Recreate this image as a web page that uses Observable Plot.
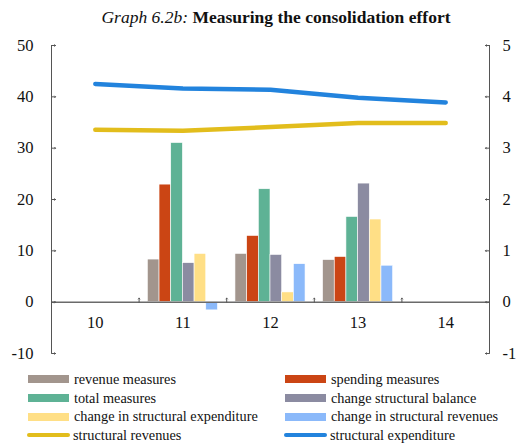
<!DOCTYPE html>
<html><head><meta charset="utf-8">
<script src="https://cdn.jsdelivr.net/npm/d3@7"></script>
<script src="https://cdn.jsdelivr.net/npm/@observablehq/plot@0.6"></script>
<style>
body{margin:0;background:#fff;font-family:"Liberation Serif",serif;color:#111;}
#wrap{position:relative;width:519px;height:444px;overflow:hidden;}
#title{position:absolute;top:0;left:33px;width:486px;height:34px;line-height:34px;text-align:center;font-size:17.5px;white-space:nowrap;}
#title i{font-style:italic;font-weight:normal;}
#title b{font-weight:bold;}
#chart{position:absolute;top:30px;left:0;}
#legend{position:absolute;top:370px;left:28px;display:grid;grid-template-columns:257px 230px;grid-auto-rows:18.7px;font-size:14.3px;}
.item{display:flex;align-items:center;white-space:nowrap;}
.sw{width:41px;height:8px;margin-right:5px;flex:none;}
.ln{width:43px;height:4px;border-radius:2px;margin-left:-1px;margin-right:3px;flex:none;}
</style>
</head><body>
<div id="wrap">
  <div id="title"><i>Graph 6.2b:</i> <b>Measuring the consolidation effort</b></div>
  <div id="chart"></div>
  <div id="legend"></div>
</div>
<script>
// ---- data ----
const years = [10, 11, 12, 13, 14];
const barYears = [11, 12, 13];
const revenueMeasures = [0.83, 0.94, 0.82];
const spendingMeasures = [2.29, 1.29, 0.88];
const totalMeasures = [3.10, 2.20, 1.66];
const changeStructuralBalance = [0.76, 0.92, 2.31];
const changeStructuralExpenditure = [0.94, 0.19, 1.61];
const changeStructuralRevenues = [-0.16, 0.74, 0.71];
const structuralRevenues = [33.6, 33.4, 34.1, 34.9, 34.9];
const structuralExpenditure = [42.5, 41.6, 41.4, 39.8, 38.9];
const leftTicks = [-10, 0, 10, 20, 30, 40, 50];
const rightTicks = [-1, 0, 1, 2, 3, 4, 5];
const barNames = ["revenue measures", "spending measures", "total measures", "change structural balance", "change in structural expenditure", "change in structural revenues"];
const barColors = ["#a2958d", "#cb4514", "#5eb295", "#8b8ba1", "#ffdf86", "#8bb9fa"];
const lineNames = ["structural revenues", "structural expenditure"];
const lineColors = ["#e2bd1c", "#2283dd"];

// ---- build ----
const ratio = leftTicks[leftTicks.length - 1] / rightTicks[rightTicks.length - 1];
const barSeries = [revenueMeasures, spendingMeasures, totalMeasures, changeStructuralBalance, changeStructuralExpenditure, changeStructuralRevenues];
const groupWidth = 0.8;
const slot = groupWidth / barSeries.length;
const barData = barSeries.flatMap((vals, i) => barYears.map((yr, j) => ({year: yr, i, name: barNames[i], value: vals[j]})));
const lineData = [structuralRevenues, structuralExpenditure].flatMap((vals, k) => years.map((yr, j) => ({year: yr, name: lineNames[k], value: vals[j]})));
const xDomain = [years[0] - 0.5, years[years.length - 1] + 0.5];
const boundaries = years.slice(0, -1).map(y => y + 0.5);
const FONT = '"Liberation Serif", serif';

const chart = Plot.plot({
  width: 519, height: 340,
  marginLeft: 51, marginRight: 30, marginTop: 15, marginBottom: 17,
  x: {type: "linear", domain: xDomain, axis: null},
  y: {domain: [leftTicks[0], leftTicks[leftTicks.length - 1]], axis: null},
  color: {domain: [...barNames, ...lineNames], range: [...barColors, ...lineColors]},
  style: {fontFamily: FONT, fontSize: "16.5px", color: "#111", background: "white", overflow: "visible"},
  marks: [
    Plot.rectY(barData, {
      x1: d => d.year - groupWidth / 2 + d.i * slot,
      x2: d => d.year - groupWidth / 2 + (d.i + 1) * slot,
      y1: 0, y2: d => d.value * ratio,
      fill: "name", stroke: "white", strokeWidth: 0.6
    }),
    Plot.ruleY([0], {stroke: "#6a6a6a", strokeWidth: 1.5}),
    Plot.ruleX(xDomain, {stroke: "#555", strokeWidth: 1}),
    Plot.vector(boundaries, {x: d => d, y: 0, length: 4, rotate: 0, anchor: "start", stroke: "#555", strokeWidth: 1}),
    Plot.vector(leftTicks, {x: xDomain[0], y: d => d, length: 4, rotate: 90, anchor: "start", stroke: "#555", strokeWidth: 1}),
    Plot.vector(rightTicks.map(d => d * ratio), {x: xDomain[1], y: d => d, length: 4, rotate: -90, anchor: "start", stroke: "#555", strokeWidth: 1}),
    Plot.axisY(leftTicks, {anchor: "left", tickSize: 0, tickPadding: 18, tickFormat: d => String(d), label: null, fontSize: 16.5, fontFamily: FONT}),
    Plot.axisY(rightTicks.map(d => d * ratio), {anchor: "right", tickSize: 0, tickPadding: 13, tickFormat: d => String(d / ratio), label: null, fontSize: 16.5, fontFamily: FONT}),
    Plot.text(years, {x: d => d, y: 0, dy: 21, text: d => String(d), fontSize: 16.5, fontFamily: FONT, fill: "#111"}),
    Plot.line(lineData, {x: "year", y: "value", z: "name", stroke: "name", strokeWidth: 4.5, strokeLinecap: "round", strokeLinejoin: "round"})
  ]
});
document.getElementById("chart").appendChild(chart);

// ---- legend ----
const legendItems = [
  {name: barNames[0], color: barColors[0], kind: "sw"},
  {name: barNames[1], color: barColors[1], kind: "sw"},
  {name: barNames[2], color: barColors[2], kind: "sw"},
  {name: barNames[3], color: barColors[3], kind: "sw"},
  {name: barNames[4], color: barColors[4], kind: "sw"},
  {name: barNames[5], color: barColors[5], kind: "sw"},
  {name: lineNames[0], color: lineColors[0], kind: "ln"},
  {name: lineNames[1], color: lineColors[1], kind: "ln"}
];
const legend = document.getElementById("legend");
for (const it of legendItems) {
  const div = document.createElement("div");
  div.className = "item";
  const sw = document.createElement("span");
  sw.className = it.kind;
  sw.style.background = it.color;
  const t = document.createElement("span");
  t.textContent = it.name;
  div.appendChild(sw); div.appendChild(t);
  legend.appendChild(div);
}
</script>
</body></html>
